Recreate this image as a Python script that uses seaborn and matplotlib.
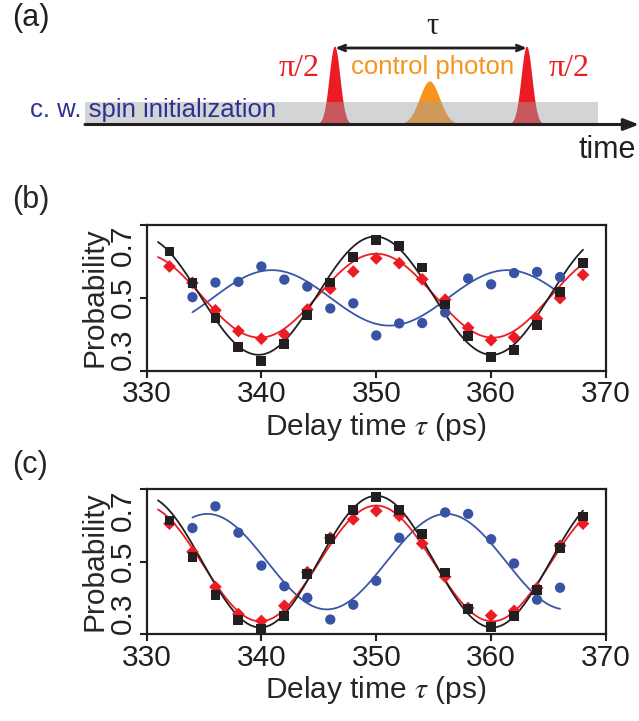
import numpy as np
import pandas as pd
import matplotlib
matplotlib.use("Agg")
import matplotlib.pyplot as plt
from matplotlib.patches import Rectangle, Polygon
import seaborn as sns

# ---------------- data ----------------
tau = [332, 334, 336, 338, 340, 342, 344, 346, 348, 350,
       352, 354, 356, 358, 360, 362, 364, 366, 368]

black_b = [0.626, 0.540, 0.444, 0.365, 0.326, 0.372, 0.452, 0.541, 0.611, 0.657,
           0.641, 0.582, 0.481, 0.395, 0.338, 0.357, 0.424, 0.516, 0.594]
red_b = [0.585, 0.540, 0.465, 0.408, 0.387, 0.399, 0.467, 0.524, 0.571, 0.607,
         0.594, 0.550, 0.494, 0.417, 0.383, 0.391, 0.442, 0.498, 0.562]
tau_blue_b = [334, 336, 338, 340, 342, 344, 346, 348, 350, 352, 354, 356, 358,
              360, 362, 364, 366]
blue_b = [0.501, 0.541, 0.543, 0.585, 0.549, 0.530, 0.470, 0.484, 0.396, 0.429,
          0.430, 0.459, 0.552, 0.536, 0.567, 0.570, 0.556]

black_c = [0.614, 0.513, 0.408, 0.339, 0.315, 0.349, 0.465, 0.562, 0.643, 0.678,
           0.643, 0.577, 0.470, 0.369, 0.319, 0.349, 0.421, 0.538, 0.625]
red_c = [0.605, 0.527, 0.430, 0.355, 0.336, 0.378, 0.471, 0.566, 0.617, 0.640,
         0.627, 0.550, 0.458, 0.372, 0.351, 0.364, 0.427, 0.544, 0.605]
tau_blue_c = [334, 336, 338, 340, 342, 344, 346, 348, 350, 352, 356, 358, 360,
              362, 364, 366]
blue_c = [0.593, 0.653, 0.580, 0.489, 0.432, 0.400, 0.340, 0.381, 0.447, 0.566,
          0.636, 0.632, 0.562, 0.495, 0.395, 0.428]

# sinusoidal fit parameters:
# (offset, amplitude, period ps, time of maximum ps, start ps, end ps)
fit_black_b = (0.505, 0.162, 20.3, 349.9, 331, 368)
fit_red_b = (0.505, 0.115, 20.3, 350.0, 331, 368)
fit_blue_b = (0.499, 0.076, 20.5, 340.9, 334, 366)
fit_black_c = (0.500, 0.182, 20.2, 350.0, 331, 368)
fit_red_c = (0.495, 0.160, 20.2, 350.0, 331, 368)
fit_blue_c = (0.500, 0.132, 20.8, 335.3, 334, 366)

x_ticks = [330, 340, 350, 360, 370]
y_ticks = [0.3, 0.5, 0.7]
x_label = r"Delay time $\tau$ (ps)"
y_label = "Probability"

# ---------------- style ----------------
sns.set_style("ticks")
plt.rcParams["font.family"] = ["Liberation Sans", "DejaVu Sans"]
plt.rcParams["mathtext.fontset"] = "stix"

BLACK = "#231f20"
RED = "#ed1c24"
BLUE = "#3953a4"
BLUE_LINE = "#3a56a8"
ORANGE = "#f7941d"
DARKBLUE = "#2e3192"

W, H = 639, 721
fig = plt.figure(figsize=(W / 100, H / 100), dpi=100)

# ---------------- panel (a): schematic in pixel coordinates ----------------
axa = fig.add_axes([0, 1 - 170 / H, 1, 170 / H])
axa.set_xlim(0, W)
axa.set_ylim(170, 0)
axa.axis("off")

base_y = 124.5


def pulse(x0, height, sigma):
    xs = np.linspace(x0 - 3.0 * sigma, x0 + 3.0 * sigma, 80)
    ys = base_y - height * np.exp(-((xs - x0) ** 2) / (2 * sigma ** 2))
    return np.column_stack([xs, ys])


for x0 in (335, 527):
    axa.add_patch(Polygon(pulse(x0, 78, 5.4), closed=True, facecolor=RED,
                          edgecolor="none", zorder=2))
axa.add_patch(Polygon(pulse(430, 43, 10.0), closed=True, facecolor=ORANGE,
                      edgecolor="none", zorder=2))
axa.add_patch(Rectangle((85, 101.5), 513, 23, facecolor="#9da1a3", alpha=0.45,
                        edgecolor="none", zorder=3))
axa.annotate("", xy=(639, base_y), xytext=(85, base_y),
             arrowprops=dict(arrowstyle="-|>,head_length=0.9,head_width=0.35",
                             color=BLACK, lw=2.2, shrinkA=0, shrinkB=0), zorder=4)
axa.annotate("", xy=(527, 48), xytext=(335, 48),
             arrowprops=dict(arrowstyle="<->,head_length=0.5,head_width=0.2",
                             color=BLACK, lw=2.0, shrinkA=0, shrinkB=0), zorder=4)
axa.text(432, 27, "τ", fontsize=22, family=["Liberation Serif", "DejaVu Serif"],
         ha="center", va="center", color=BLACK)
axa.text(299, 68, "π/2", fontsize=23, family=["Liberation Serif", "DejaVu Serif"],
         ha="center", va="center", color=RED)
axa.text(569, 68, "π/2", fontsize=23, family=["Liberation Serif", "DejaVu Serif"],
         ha="center", va="center", color=RED)
axa.text(433, 67, "control photon", fontsize=18.5, ha="center", va="center",
         color=ORANGE)
axa.text(30, 110, "c. w. spin initialization", fontsize=18.5, ha="left",
         va="center", color=DARKBLUE, zorder=5)
axa.text(607, 150, "time", fontsize=22, ha="center", va="center", color=BLACK)
axa.text(12, 18, "(a)", fontsize=22, ha="left", va="center", color=BLACK)


# ---------------- panels (b), (c) ----------------
def fit_frame(p):
    off, amp, per, tmax, t0, t1 = p
    t = np.linspace(t0, t1, 400)
    return pd.DataFrame({"t": t, "p": off + amp * np.cos(2 * np.pi * (t - tmax) / per)})


def panel(ax, blk, rd, tb, bl, fb, fr, fbl):
    sns.lineplot(data=fit_frame(fbl), x="t", y="p", ax=ax, color=BLUE_LINE,
                 lw=1.3, zorder=2, sort=False)
    sns.lineplot(data=fit_frame(fr), x="t", y="p", ax=ax, color=RED,
                 lw=1.3, zorder=2, sort=False)
    sns.lineplot(data=fit_frame(fb), x="t", y="p", ax=ax, color=BLACK,
                 lw=1.3, zorder=2, sort=False)
    sns.scatterplot(x=tb, y=bl, ax=ax, color=BLUE, marker="o", s=55,
                    edgecolor="none", zorder=3)
    sns.scatterplot(x=tau, y=rd, ax=ax, color=RED, marker="D", s=42,
                    edgecolor="none", zorder=4)
    sns.scatterplot(x=tau, y=blk, ax=ax, color=BLACK, marker="s", s=50,
                    edgecolor="none", zorder=5)
    ax.set_xlim(330, 370)
    ax.set_ylim(0.3, 0.7)
    ax.set_xticks(x_ticks)
    ax.set_yticks(y_ticks)
    ax.set_yticklabels([f"{v:.1f}" for v in y_ticks], rotation=90)
    ax.tick_params(axis="both", direction="out", length=5, width=1.5,
                   labelsize=21.5, color=BLACK, labelcolor=BLACK, pad=2)
    labs = ax.get_yticklabels()
    for lab, va in zip(labs, ["bottom", "center", "top"]):
        lab.set_verticalalignment(va)
    for s in ax.spines.values():
        s.set_visible(True)
        s.set_linewidth(1.6)
        s.set_color(BLACK)
    ax.set_xlabel(x_label, fontsize=21.5, labelpad=2)
    ax.set_ylabel(y_label, fontsize=21.5, labelpad=0)


axb = fig.add_axes([146.5 / W, 1 - 370.5 / H, 459.5 / W, 146 / H])
panel(axb, black_b, red_b, tau_blue_b, blue_b, fit_black_b, fit_red_b, fit_blue_b)
axc = fig.add_axes([146.5 / W, 1 - 634 / H, 459.5 / W, 144.7 / H])
panel(axc, black_c, red_c, tau_blue_c, blue_c, fit_black_c, fit_red_c, fit_blue_c)

fig.text(12 / W, 1 - 200 / H, "(b)", fontsize=22, ha="left", va="center")
fig.text(12 / W, 1 - 465 / H, "(c)", fontsize=22, ha="left", va="center")

fig.savefig("out.png", dpi=100)
